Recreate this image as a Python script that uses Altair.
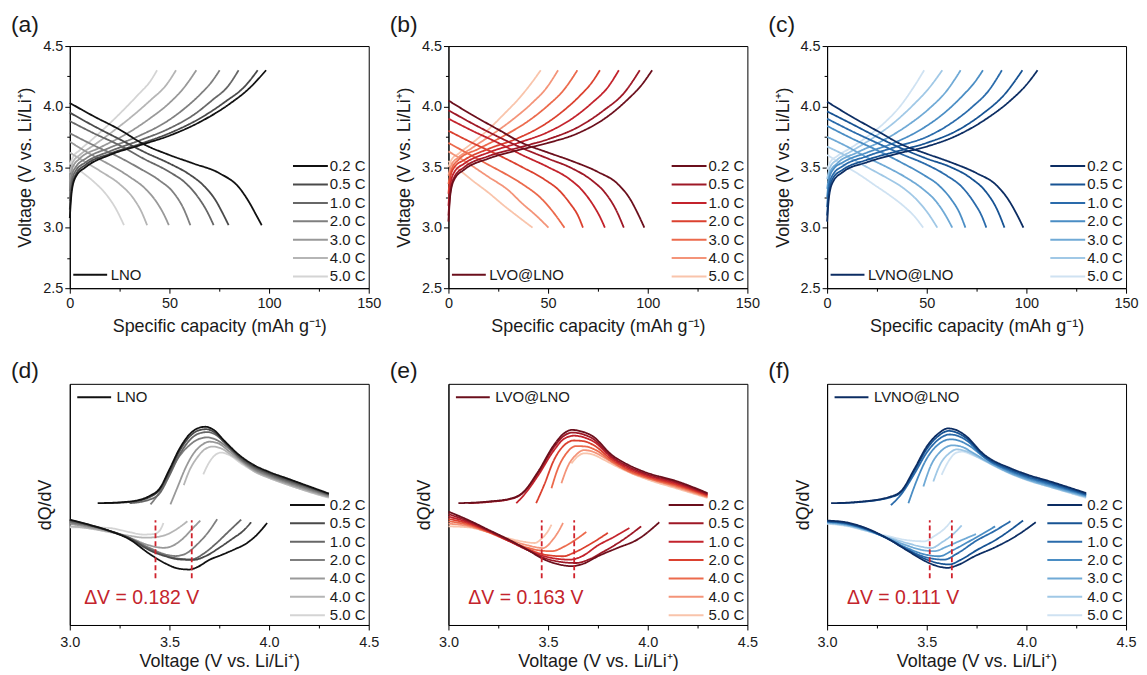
import altair as alt
import pandas as pd

FONT = "Liberation Sans"
RATES = ["0.2 C", "0.5 C", "1.0 C", "2.0 C", "3.0 C", "4.0 C", "5.0 C"]
SAMPLES = ["LNO", "LVO@LNO", "LVNO@LNO"]
LETTERS_TOP = ["(a)", "(b)", "(c)"]
LETTERS_BOT = ["(d)", "(e)", "(f)"]

GRAYS = ["#111111", "#4a4a4a", "#676767", "#7f7f7f", "#999999", "#b5b5b5", "#d4d4d4"]
REDS = ["#6b0f1c", "#9e1826", "#c3232c", "#db412f", "#ec6a4c", "#f49479", "#f9c4ab"]
BLUES = ["#0c2d63", "#175393", "#2a6bab", "#4a8dc4", "#70aad6", "#a0c8e6", "#cfe2f2"]

# ---- galvanostatic charge / discharge: (capacity mAh/g, voltage V), order = RATES
LNO_CHG = [
    [(0, 3.08), (1, 3.3), (3, 3.42), (8, 3.5), (20, 3.6), (35, 3.68), (50, 3.76), (65, 3.87), (80, 4.02), (90, 4.15), (98.5, 4.3)],
    [(0, 3.15), (1, 3.33), (3, 3.44), (8, 3.52), (20, 3.61), (35, 3.69), (50, 3.78), (65, 3.9), (78, 4.04), (88, 4.17), (94.3, 4.3)],
    [(0, 3.22), (1, 3.38), (3, 3.47), (8, 3.54), (20, 3.63), (35, 3.72), (50, 3.82), (62, 3.93), (72, 4.06), (79, 4.16), (84.7, 4.3)],
    [(0, 3.3), (1, 3.43), (3, 3.5), (8, 3.57), (20, 3.66), (35, 3.76), (48, 3.87), (58, 3.99), (66, 4.11), (71, 4.2), (75.2, 4.3)],
    [(0, 3.38), (1.5, 3.5), (5, 3.57), (15, 3.66), (28, 3.77), (40, 3.9), (50, 4.03), (57, 4.15), (63.5, 4.3)],
    [(0, 3.45), (1.5, 3.54), (5, 3.6), (12, 3.68), (22, 3.8), (32, 3.93), (41, 4.06), (48, 4.17), (53.3, 4.3)],
    [(0, 3.52), (1.5, 3.58), (5, 3.64), (12, 3.74), (20, 3.86), (28, 3.99), (35, 4.11), (40, 4.2), (43.8, 4.3)],
]
LNO_DIS = [
    [(0, 4.03), (12, 3.92), (25, 3.81), (37, 3.69), (50, 3.6), (62, 3.53), (75, 3.45), (85, 3.33), (90, 3.21), (94, 3.09), (96.3, 3.02)],
    [(0, 3.95), (12, 3.84), (25, 3.73), (38, 3.62), (50, 3.53), (60, 3.44), (67, 3.35), (73, 3.23), (77, 3.11), (79.7, 3.02)],
    [(0, 3.88), (12, 3.78), (25, 3.68), (37, 3.57), (50, 3.46), (58, 3.37), (64, 3.26), (69, 3.13), (72.2, 3.02)],
    [(0, 3.78), (12, 3.68), (25, 3.58), (35, 3.49), (45, 3.39), (52, 3.29), (57, 3.16), (60.5, 3.02)],
    [(0, 3.71), (10, 3.61), (20, 3.52), (30, 3.42), (38, 3.32), (44, 3.2), (47.5, 3.1), (49.7, 3.02)],
    [(0, 3.62), (8, 3.54), (16, 3.46), (25, 3.36), (32, 3.24), (36, 3.13), (38.8, 3.02)],
    [(0, 3.54), (6, 3.46), (12, 3.38), (18, 3.28), (23, 3.16), (27.2, 3.02)],
]
LVO_CHG = [
    [(0, 3.05), (1, 3.28), (3, 3.4), (8, 3.48), (20, 3.57), (35, 3.64), (50, 3.7), (65, 3.78), (80, 3.92), (90, 4.06), (97, 4.18), (102.2, 4.3)],
    [(0, 3.1), (1, 3.3), (3, 3.42), (8, 3.5), (20, 3.59), (35, 3.66), (50, 3.73), (65, 3.83), (78, 3.97), (88, 4.11), (96, 4.3)],
    [(0, 3.18), (1, 3.36), (3, 3.46), (8, 3.53), (20, 3.62), (35, 3.7), (50, 3.79), (62, 3.9), (72, 4.03), (80, 4.16), (85.5, 4.3)],
    [(0, 3.28), (1, 3.42), (3, 3.5), (8, 3.56), (20, 3.65), (35, 3.74), (48, 3.85), (58, 3.97), (66, 4.09), (72, 4.2), (76, 4.3)],
    [(0, 3.36), (1.5, 3.48), (5, 3.56), (15, 3.65), (28, 3.76), (40, 3.88), (50, 4.01), (58, 4.14), (64.7, 4.3)],
    [(0, 3.43), (1.5, 3.52), (5, 3.58), (12, 3.66), (22, 3.77), (32, 3.89), (42, 4.03), (49, 4.15), (55, 4.3)],
    [(0, 3.5), (1.5, 3.56), (5, 3.61), (12, 3.7), (20, 3.81), (28, 3.94), (35, 4.06), (41, 4.18), (46.3, 4.3)],
]
LVO_DIS = [
    [(0, 4.05), (12, 3.93), (25, 3.81), (37, 3.7), (50, 3.62), (62, 3.55), (75, 3.46), (85, 3.36), (91, 3.24), (95.5, 3.1), (98.3, 3.0)],
    [(0, 3.97), (12, 3.86), (25, 3.75), (38, 3.65), (50, 3.57), (62, 3.49), (72, 3.39), (79, 3.28), (84, 3.15), (88, 3.0)],
    [(0, 3.9), (12, 3.8), (25, 3.7), (37, 3.6), (50, 3.5), (60, 3.41), (67, 3.31), (72.5, 3.19), (76, 3.09), (78.5, 3.0)],
    [(0, 3.8), (12, 3.7), (25, 3.6), (37, 3.5), (48, 3.4), (56, 3.3), (61, 3.2), (65, 3.1), (67.5, 3.0)],
    [(0, 3.7), (10, 3.61), (20, 3.52), (29, 3.44), (38, 3.35), (46, 3.25), (52, 3.14), (58.2, 3.0)],
    [(0, 3.63), (10, 3.53), (20, 3.42), (30, 3.31), (37, 3.2), (44, 3.1), (50.2, 3.0)],
    [(0, 3.55), (6, 3.47), (12, 3.39), (20, 3.29), (28, 3.18), (35, 3.09), (42.2, 3.0)],
]
LVNO_CHG = [
    [(0, 3.05), (1, 3.26), (3, 3.38), (8, 3.46), (20, 3.54), (35, 3.61), (50, 3.67), (65, 3.76), (80, 3.9), (92, 4.05), (100, 4.18), (105.6, 4.3)],
    [(0, 3.1), (1, 3.3), (3, 3.41), (8, 3.48), (20, 3.56), (35, 3.63), (50, 3.7), (65, 3.8), (78, 3.94), (89, 4.1), (98, 4.3)],
    [(0, 3.17), (1, 3.35), (3, 3.44), (8, 3.51), (20, 3.59), (35, 3.67), (50, 3.75), (62, 3.86), (73, 4.0), (81, 4.13), (87.7, 4.3)],
    [(0, 3.25), (1, 3.4), (3, 3.48), (8, 3.54), (20, 3.62), (35, 3.71), (48, 3.82), (59, 3.95), (68, 4.09), (74, 4.2), (78.2, 4.3)],
    [(0, 3.32), (1.5, 3.46), (5, 3.53), (15, 3.62), (28, 3.72), (40, 3.84), (51, 3.98), (60, 4.13), (67, 4.3)],
    [(0, 3.4), (1.5, 3.5), (5, 3.56), (12, 3.63), (22, 3.73), (33, 3.86), (43, 4.01), (51, 4.15), (57.8, 4.3)],
    [(0, 3.48), (1.5, 3.54), (5, 3.59), (12, 3.66), (20, 3.75), (29, 3.87), (37, 4.01), (43, 4.15), (48.7, 4.3)],
]
LVNO_DIS = [
    [(0, 4.04), (12, 3.92), (25, 3.8), (37, 3.69), (50, 3.61), (62, 3.54), (75, 3.45), (85, 3.35), (91, 3.23), (95.5, 3.1), (98.5, 3.0)],
    [(0, 3.96), (12, 3.86), (25, 3.75), (38, 3.65), (50, 3.57), (62, 3.5), (72, 3.41), (80, 3.29), (85, 3.16), (89, 3.0)],
    [(0, 3.9), (12, 3.8), (25, 3.7), (37, 3.61), (50, 3.52), (60, 3.43), (68, 3.33), (74, 3.2), (77.5, 3.1), (79.9, 3.0)],
    [(0, 3.84), (12, 3.74), (25, 3.64), (37, 3.54), (48, 3.44), (56, 3.35), (62, 3.24), (66.5, 3.12), (69.4, 3.0)],
    [(0, 3.75), (10, 3.67), (20, 3.58), (30, 3.5), (40, 3.41), (48, 3.32), (55, 3.21), (59.5, 3.1), (62.8, 3.0)],
    [(0, 3.67), (10, 3.59), (20, 3.5), (30, 3.41), (38, 3.33), (45, 3.23), (51, 3.11), (55.3, 3.0)],
    [(0, 3.6), (8, 3.52), (16, 3.44), (24, 3.35), (32, 3.26), (39, 3.17), (44, 3.09), (48.2, 3.0)],
]

# ---- dQ/dV: (voltage V, dQ/dV in arbitrary units), order = RATES
LNO_DQ_CHG = [
    [(3.14, 5.05), (3.3, 5.12), (3.4, 5.35), (3.45, 5.65), (3.5, 6.45), (3.55, 7.3), (3.6, 7.9), (3.65, 8.18), (3.68, 8.22), (3.72, 8.1), (3.78, 7.6), (3.85, 7.05), (3.92, 6.65), (4.0, 6.35), (4.1, 6.05), (4.2, 5.75), (4.3, 5.45)],
    [(3.18, 5.05), (3.3, 5.1), (3.4, 5.3), (3.45, 5.6), (3.5, 6.35), (3.55, 7.2), (3.6, 7.8), (3.65, 8.08), (3.685, 8.12), (3.72, 8.02), (3.78, 7.55), (3.85, 7.0), (3.92, 6.6), (4.0, 6.3), (4.1, 6.0), (4.2, 5.72), (4.3, 5.43)],
    [(3.3, 5.05), (3.4, 5.2), (3.45, 5.45), (3.5, 6.2), (3.55, 7.05), (3.6, 7.65), (3.65, 7.95), (3.69, 8.0), (3.73, 7.9), (3.79, 7.45), (3.85, 6.95), (3.92, 6.55), (4.0, 6.25), (4.1, 5.95), (4.2, 5.68), (4.3, 5.4)],
    [(3.405, 5.0), (3.45, 5.5), (3.5, 6.3), (3.55, 7.0), (3.6, 7.45), (3.65, 7.72), (3.69, 7.78), (3.74, 7.66), (3.8, 7.3), (3.86, 6.85), (3.93, 6.45), (4.0, 6.2), (4.1, 5.9), (4.2, 5.63), (4.3, 5.37)],
    [(3.505, 5.0), (3.54, 5.7), (3.58, 6.5), (3.62, 7.1), (3.66, 7.45), (3.7, 7.6), (3.74, 7.55), (3.8, 7.2), (3.86, 6.8), (3.93, 6.4), (4.0, 6.15), (4.1, 5.85), (4.2, 5.58), (4.3, 5.33)],
    [(3.572, 5.8), (3.6, 6.4), (3.64, 6.95), (3.68, 7.3), (3.72, 7.4), (3.76, 7.32), (3.81, 7.05), (3.87, 6.7), (3.93, 6.35), (4.0, 6.1), (4.1, 5.8), (4.2, 5.53), (4.3, 5.3)],
    [(3.67, 6.25), (3.7, 6.75), (3.73, 7.05), (3.76, 7.15), (3.8, 7.05), (3.86, 6.7), (3.93, 6.35), (4.0, 6.1), (4.1, 5.8), (4.2, 5.52), (4.3, 5.27)],
]
LNO_DQ_DIS = [
    [(3.0, 4.37), (3.1, 4.15), (3.2, 3.9), (3.3, 3.55), (3.4, 2.95), (3.48, 2.55), (3.55, 2.33), (3.6, 2.3), (3.64, 2.4), (3.7, 2.7), (3.76, 2.9), (3.83, 3.15), (3.88, 3.35), (3.94, 3.75), (3.99, 4.23)],
    [(3.0, 4.35), (3.1, 4.15), (3.2, 3.9), (3.3, 3.6), (3.4, 3.1), (3.48, 2.85), (3.55, 2.72), (3.62, 2.7), (3.68, 2.85), (3.75, 3.2), (3.82, 3.6), (3.87, 3.9), (3.91, 4.26)],
    [(3.0, 4.3), (3.1, 4.12), (3.2, 3.9), (3.3, 3.6), (3.4, 3.15), (3.48, 2.88), (3.55, 2.75), (3.61, 2.72), (3.67, 2.95), (3.73, 3.35), (3.8, 3.9), (3.86, 4.37)],
    [(3.0, 4.25), (3.1, 4.1), (3.2, 3.9), (3.3, 3.6), (3.4, 3.2), (3.47, 2.95), (3.53, 2.86), (3.58, 2.95), (3.64, 3.35), (3.69, 3.8), (3.74, 4.39)],
    [(3.0, 4.2), (3.1, 4.05), (3.2, 3.88), (3.3, 3.62), (3.4, 3.3), (3.47, 3.2), (3.52, 3.3), (3.57, 3.6), (3.61, 3.95), (3.655, 4.33)],
    [(3.0, 4.1), (3.1, 4.0), (3.2, 3.85), (3.3, 3.7), (3.38, 3.62), (3.44, 3.65), (3.5, 3.8), (3.55, 4.05), (3.59, 4.3)],
    [(3.0, 4.05), (3.1, 4.05), (3.2, 4.02), (3.3, 3.85), (3.37, 3.75), (3.42, 3.77), (3.45, 3.9), (3.47, 4.23)],
]
LVO_DQ_CHG = [
    [(3.05, 5.05), (3.2, 5.12), (3.32, 5.26), (3.37, 5.47), (3.45, 6.36), (3.53, 7.47), (3.58, 7.95), (3.62, 8.09), (3.67, 8.02), (3.72, 7.85), (3.82, 7.05), (3.9, 6.65), (3.98, 6.36), (4.15, 5.95), (4.3, 5.47)],
    [(3.1, 5.05), (3.2, 5.1), (3.32, 5.24), (3.37, 5.45), (3.45, 6.3), (3.53, 7.38), (3.58, 7.85), (3.625, 7.98), (3.67, 7.92), (3.72, 7.75), (3.82, 6.98), (3.9, 6.58), (3.98, 6.3), (4.15, 5.9), (4.3, 5.43)],
    [(3.34, 5.05), (3.38, 5.4), (3.45, 6.2), (3.53, 7.25), (3.58, 7.72), (3.63, 7.85), (3.68, 7.78), (3.73, 7.6), (3.82, 6.92), (3.9, 6.52), (3.98, 6.25), (4.15, 5.85), (4.3, 5.4)],
    [(3.44, 5.05), (3.48, 5.8), (3.53, 6.85), (3.58, 7.45), (3.63, 7.65), (3.68, 7.62), (3.73, 7.45), (3.82, 6.85), (3.9, 6.46), (3.98, 6.2), (4.15, 5.8), (4.3, 5.37)],
    [(3.517, 5.67), (3.55, 6.5), (3.59, 7.1), (3.64, 7.42), (3.69, 7.4), (3.74, 7.25), (3.82, 6.78), (3.9, 6.4), (3.98, 6.15), (4.15, 5.75), (4.3, 5.33)],
    [(3.567, 5.88), (3.6, 6.6), (3.64, 7.05), (3.68, 7.25), (3.72, 7.2), (3.77, 7.0), (3.84, 6.65), (3.92, 6.3), (4.0, 6.08), (4.15, 5.7), (4.3, 5.3)],
    [(3.617, 6.7), (3.65, 7.0), (3.68, 7.12), (3.72, 7.08), (3.78, 6.85), (3.85, 6.55), (3.93, 6.25), (4.0, 6.03), (4.15, 5.65), (4.3, 5.27)],
]
LVO_DQ_DIS = [
    [(3.0, 4.7), (3.1, 4.35), (3.2, 3.95), (3.3, 3.55), (3.4, 3.1), (3.48, 2.72), (3.55, 2.52), (3.62, 2.44), (3.68, 2.55), (3.75, 2.85), (3.85, 3.2), (3.95, 3.55), (4.058, 4.26)],
    [(3.0, 4.6), (3.1, 4.3), (3.2, 3.92), (3.3, 3.52), (3.4, 3.1), (3.48, 2.78), (3.56, 2.62), (3.64, 2.57), (3.7, 2.7), (3.78, 3.05), (3.87, 3.5), (3.967, 4.09)],
    [(3.0, 4.5), (3.1, 4.25), (3.2, 3.9), (3.3, 3.5), (3.4, 3.1), (3.48, 2.85), (3.55, 2.74), (3.61, 2.71), (3.67, 2.85), (3.75, 3.3), (3.83, 3.65), (3.908, 4.02)],
    [(3.0, 4.4), (3.1, 4.2), (3.2, 3.88), (3.3, 3.5), (3.4, 3.15), (3.48, 2.92), (3.575, 2.85), (3.63, 3.0), (3.7, 3.3), (3.8, 3.82)],
    [(3.0, 4.3), (3.1, 4.15), (3.2, 3.85), (3.3, 3.5), (3.4, 3.2), (3.47, 3.08), (3.52, 3.06), (3.58, 3.25), (3.64, 3.55), (3.692, 3.86)],
    [(3.0, 4.2), (3.1, 4.1), (3.2, 3.85), (3.3, 3.55), (3.4, 3.3), (3.475, 3.19), (3.52, 3.5), (3.55, 3.85), (3.575, 4.23)],
    [(3.0, 4.09), (3.1, 4.05), (3.2, 3.85), (3.3, 3.6), (3.38, 3.45), (3.433, 3.4), (3.47, 3.6), (3.5, 3.9), (3.517, 4.16)],
]
LVNO_DQ_CHG = [
    [(3.02, 5.05), (3.15, 5.1), (3.32, 5.33), (3.37, 5.54), (3.44, 6.5), (3.5, 7.4), (3.56, 7.95), (3.605, 8.15), (3.65, 8.08), (3.69, 7.88), (3.79, 7.05), (3.92, 6.5), (4.0, 6.25), (4.12, 5.95), (4.3, 5.47)],
    [(3.05, 5.05), (3.15, 5.09), (3.32, 5.3), (3.37, 5.5), (3.44, 6.42), (3.5, 7.3), (3.56, 7.85), (3.61, 8.05), (3.65, 7.98), (3.69, 7.8), (3.79, 7.0), (3.92, 6.45), (4.0, 6.2), (4.12, 5.9), (4.3, 5.43)],
    [(3.32, 4.97), (3.37, 5.4), (3.44, 6.3), (3.5, 7.15), (3.56, 7.7), (3.615, 7.9), (3.66, 7.83), (3.7, 7.65), (3.79, 6.95), (3.92, 6.4), (4.0, 6.15), (4.12, 5.85), (4.3, 5.4)],
    [(3.408, 5.05), (3.45, 6.0), (3.5, 6.9), (3.56, 7.5), (3.62, 7.7), (3.67, 7.62), (3.71, 7.45), (3.8, 6.88), (3.92, 6.35), (4.0, 6.1), (4.12, 5.8), (4.3, 5.37)],
    [(3.483, 5.74), (3.52, 6.6), (3.57, 7.2), (3.63, 7.45), (3.68, 7.38), (3.72, 7.2), (3.8, 6.8), (3.92, 6.3), (4.0, 6.05), (4.12, 5.75), (4.3, 5.33)],
    [(3.533, 5.95), (3.57, 6.7), (3.61, 7.1), (3.65, 7.28), (3.7, 7.2), (3.76, 6.95), (3.84, 6.6), (3.93, 6.25), (4.0, 6.02), (4.12, 5.72), (4.3, 5.3)],
    [(3.575, 6.23), (3.61, 6.8), (3.65, 7.15), (3.68, 7.19), (3.72, 7.08), (3.78, 6.85), (3.86, 6.5), (3.94, 6.2), (4.02, 5.98), (4.15, 5.65), (4.3, 5.27)],
]
LVNO_DQ_DIS = [
    [(3.0, 4.33), (3.1, 4.25), (3.2, 4.0), (3.3, 3.6), (3.4, 3.1), (3.48, 2.7), (3.55, 2.45), (3.605, 2.37), (3.66, 2.5), (3.74, 2.85), (3.85, 3.25), (3.95, 3.7), (4.047, 4.26)],
    [(3.0, 4.3), (3.1, 4.22), (3.2, 3.98), (3.3, 3.6), (3.4, 3.12), (3.48, 2.78), (3.55, 2.58), (3.613, 2.51), (3.67, 2.7), (3.75, 3.1), (3.85, 3.55), (3.983, 4.33)],
    [(3.0, 4.3), (3.1, 4.2), (3.2, 3.96), (3.3, 3.6), (3.4, 3.15), (3.48, 2.85), (3.588, 2.71), (3.65, 2.95), (3.75, 3.5), (3.84, 3.9), (3.92, 4.3)],
    [(3.0, 4.28), (3.1, 4.18), (3.2, 3.95), (3.3, 3.6), (3.4, 3.2), (3.48, 2.95), (3.563, 2.85), (3.63, 3.1), (3.72, 3.5), (3.843, 4.09)],
    [(3.0, 4.25), (3.1, 4.15), (3.2, 3.93), (3.3, 3.62), (3.4, 3.3), (3.47, 3.12), (3.538, 3.06), (3.6, 3.25), (3.67, 3.5), (3.747, 3.77)],
    [(3.0, 4.22), (3.1, 4.12), (3.2, 3.9), (3.3, 3.65), (3.4, 3.4), (3.47, 3.25), (3.522, 3.19), (3.58, 3.45), (3.63, 3.75), (3.675, 4.13)],
    [(3.0, 4.2), (3.1, 4.1), (3.2, 3.9), (3.3, 3.7), (3.4, 3.52), (3.488, 3.47), (3.54, 3.7), (3.59, 4.0), (3.622, 4.3)],
]

# peak positions of the discharge minimum (V) and the resulting polarisation
DV_PEAKS = [[3.43, 3.612], [3.468, 3.631], [3.515, 3.626]]
DV_LABELS = ["ΔV = 0.182 V", "ΔV = 0.163 V", "ΔV = 0.111 V"]
DV_SPAN = [1.94, 4.34]
DV_TEXT_POS = [[3.072, 1.12], [3.1, 1.13], [3.1, 1.13]]
# legend labels used in the dQ/dV panels (as printed in the figure)
DQ_LEGEND_LABELS = [
    ["0.2 C", "0.5 C", "1.0 C", "2.0 C", "4.0 C", "4.0 C", "5.0 C"],
    ["0.2 C", "0.5 C", "1.0 C", "2.0 C", "4.0 C", "4.0 C", "5.0 C"],
    ["0.2 C", "0.5 C", "1.0 C", "2.0 C", "3.0 C", "4.0 C", "5.0 C"],
]

PANEL_W = 300
INK = "#1a1a1a"


def curves_df(chg, dis, sample):
    rows = []
    for r in range(len(RATES) - 1, -1, -1):
        for branch, pts in (("charge", chg[r]), ("discharge", dis[r])):
            for i, (x, y) in enumerate(pts):
                rows.append({"x": x, "y": y, "rate": RATES[r], "branch": branch,
                             "i": i, "sample": sample})
    return pd.DataFrame(rows)


def label_expr(labels):
    expr = "datum.label"
    for src, dst in zip(RATES, labels):
        if src != dst:
            expr = f"datum.label == '{src}' ? '{dst}' : ({expr})"
    return expr


def rate_legend(x, y, offset, labels=None):
    kw = dict(title=None, orient="none", legendX=x, legendY=y,
              symbolType="M-3.5,0H3.5", symbolSize=100, symbolStrokeWidth=2,
              labelFont=FONT, labelFontSize=15, labelColor=INK,
              rowPadding=2.45, labelOffset=offset, padding=0, symbolOpacity=1)
    if labels is not None:
        kw["labelExpr"] = label_expr(labels)
    return alt.Legend(**kw)


def sample_legend(x, y, color, offset):
    return alt.Legend(title=None, orient="none", legendX=x, legendY=y,
                      symbolType="M-3.4,0H3.4", symbolSize=100, symbolStrokeWidth=2,
                      symbolStrokeColor=color, labelFont=FONT, labelFontSize=15,
                      labelColor=INK, labelOffset=offset, padding=0)


def minor_tick(test):
    return {"condition": {"test": test, "value": 5}, "value": 3}


def panel_title(text):
    return alt.TitleParams(text, anchor="start", frame="group", dx=-59, offset=1,
                           fontSize=23, font=FONT, fontWeight="normal", color=INK)


def top_panel(k, chg, dis, colors):
    df = curves_df(chg, dis, SAMPLES[k])
    xaxis = alt.Axis(title="Specific capacity (mAh g\u207b\u00b9)",
                     values=[0, 25, 50, 75, 100, 125, 150],
                     labelExpr="datum.value % 50 == 0 ? datum.label : ''",
                     tickSize=minor_tick("datum.value % 50 == 0"),
                     labelFlush=False, labelOverlap=False, labelPadding=3, titlePadding=8)
    yaxis = alt.Axis(title="Voltage (V vs. Li/Li\u207a)",
                     values=[2.5, 2.75, 3.0, 3.25, 3.5, 3.75, 4.0, 4.25, 4.5],
                     labelExpr="(datum.value * 2) % 1 == 0 ? format(datum.value, '.1f') : ''",
                     tickSize=minor_tick("(datum.value * 2) % 1 == 0"),
                     labelFlush=False, labelOverlap=False, labelPadding=2, titlePadding=8)
    return alt.Chart(df).mark_line(strokeWidth=1.8, interpolate="monotone").encode(
        x=alt.X("x:Q", scale=alt.Scale(domain=[0, 150], nice=False), axis=xaxis),
        y=alt.Y("y:Q", scale=alt.Scale(domain=[2.5, 4.5], nice=False), axis=yaxis),
        color=alt.Color("rate:N", scale=alt.Scale(domain=RATES, range=colors),
                        legend=rate_legend(234, 113, 12)),
        strokeDash=alt.StrokeDash("sample:N", scale=alt.Scale(domain=[SAMPLES[k]], range=[[1, 0]]),
                                  legend=sample_legend(13, 222, colors[0], 13)),
        detail="branch:N",
        order="i:Q",
    ).properties(width=PANEL_W, height=243, title=panel_title(LETTERS_TOP[k]))


def bottom_panel(k, chg, dis, colors):
    df = curves_df(chg, dis, SAMPLES[k])
    xaxis = alt.Axis(title="Voltage (V vs. Li/Li\u207a)",
                     values=[3.0, 3.25, 3.5, 3.75, 4.0, 4.25, 4.5],
                     labelExpr="(datum.value * 2) % 1 == 0 ? format(datum.value, '.1f') : ''",
                     tickSize=minor_tick("(datum.value * 2) % 1 == 0"),
                     labelFlush=False, labelOverlap=False, labelPadding=6, titlePadding=3)
    yaxis = alt.Axis(title="dQ/dV", labels=False, ticks=False, titlePadding=15)
    xs = alt.Scale(domain=[3.0, 4.5], nice=False)
    ys = alt.Scale(domain=[0, 10], nice=False)
    lines = alt.Chart(df).mark_line(strokeWidth=1.8, interpolate="monotone").encode(
        x=alt.X("x:Q", scale=xs, axis=xaxis),
        y=alt.Y("y:Q", scale=ys, axis=yaxis),
        color=alt.Color("rate:N", scale=alt.Scale(domain=RATES, range=colors),
                        legend=rate_legend(231, 114, 15, DQ_LEGEND_LABELS[k])),
        strokeDash=alt.StrokeDash("sample:N", scale=alt.Scale(domain=[SAMPLES[k]], range=[[1, 0]]),
                                  legend=sample_legend(17, 6, colors[0], 15)),
        detail="branch:N",
        order="i:Q",
    )
    rules_df = pd.DataFrame({"v": DV_PEAKS[k], "y1": [DV_SPAN[0]] * 2, "y2": [DV_SPAN[1]] * 2})
    rules = alt.Chart(rules_df).mark_rule(color="#d0222c", strokeWidth=1.8, strokeDash=[5, 3]).encode(
        x="v:Q", y="y1:Q", y2="y2:Q")
    text_df = pd.DataFrame({"v": [DV_TEXT_POS[k][0]], "y": [DV_TEXT_POS[k][1]], "t": [DV_LABELS[k]]})
    text = alt.Chart(text_df).mark_text(align="left", baseline="middle", font=FONT,
                                        fontSize=19.5, color="#c4242c").encode(
        x="v:Q", y="y:Q", text="t:N")
    return alt.layer(lines, rules, text).properties(
        width=PANEL_W, height=242, title=panel_title(LETTERS_BOT[k]))


tops = [top_panel(0, LNO_CHG, LNO_DIS, GRAYS),
        top_panel(1, LVO_CHG, LVO_DIS, REDS),
        top_panel(2, LVNO_CHG, LVNO_DIS, BLUES)]
bots = [bottom_panel(0, LNO_DQ_CHG, LNO_DQ_DIS, GRAYS),
        bottom_panel(1, LVO_DQ_CHG, LVO_DQ_DIS, REDS),
        bottom_panel(2, LVNO_DQ_CHG, LVNO_DQ_DIS, BLUES)]

chart = alt.concat(*tops, *bots, columns=3, spacing={"row": 96, "column": 80},
                   bounds="flush").resolve_scale(
    color="independent", strokeDash="independent"
).resolve_legend(color="independent", strokeDash="independent").properties(
    padding={"left": 2, "top": 4, "right": 0, "bottom": 0}
).configure_view(stroke="#000000", strokeWidth=1).configure_axis(
    labelFont=FONT, titleFont=FONT, labelFontSize=14.5, titleFontSize=18,
    labelColor=INK, titleColor=INK, titleFontWeight="normal",
    domainColor="#000000", tickColor="#000000", grid=False
)

chart.save("out.html", embed_options={"renderer": "svg", "actions": False})
